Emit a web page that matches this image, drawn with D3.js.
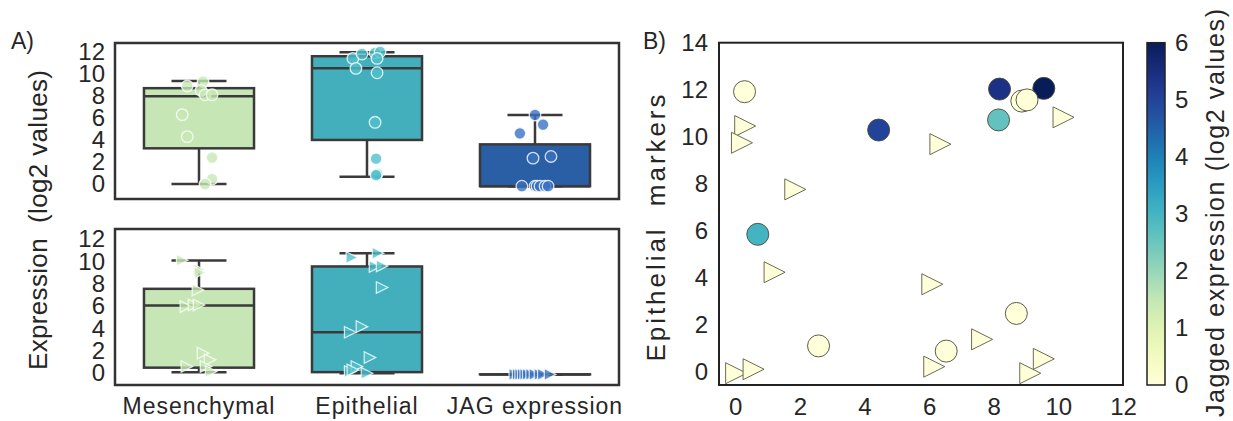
<!DOCTYPE html>
<html>
<head>
<meta charset="utf-8">
<script src="https://cdn.jsdelivr.net/npm/d3@7"></script>
<style>
  body { margin: 0; background: #fff; }
  text { font-family: "Liberation Sans", Arial, sans-serif; fill: #262626; }
</style>
</head>
<body>
<svg id="chart"></svg>
<script>
const svgWidth = 1233, svgHeight = 421;

// ---- data ----
const categories = ["Mesenchymal", "Epithelial", "JAG expression"];

// box stats: [lower whisker, q1, median, q3, upper whisker]
const topStats = [
  [0, 3.24, 7.97, 8.7, 9.36],
  [0.67, 4.0, 10.5, 11.6, 11.95],
  [-0.2, -0.2, -0.2, 3.6, 6.27]
];
const bottomStats = [
  [0.1, 0.5, 6.05, 7.55, 10.08],
  [0, 0.1, 3.67, 9.55, 10.74],
  [-0.1, -0.1, -0.1, -0.1, -0.1]
];

const topValues = [
  [8.9, 9.3, 8.5, 8.1, 8.1, 6.3, 4.3, 2.4, 0.45, 0],
  [11.4, 11.8, 11.9, 12.0, 11.4, 10.5, 10.1, 5.6, 2.3, 0.9, 0.8],
  [6.27, 5.4, 4.6, 2.35, 2.5, -0.2, -0.2, -0.2, -0.2, -0.2, -0.2]
];
const topJitter = [
  [-0.07, 0.024, 0.012, 0.036, 0.078, -0.1, -0.07, 0.078, 0.078, 0.036],
  [-0.084, -0.03, 0.048, 0.078, 0.06, -0.066, 0.06, 0.048, 0.054, 0.06, 0.054],
  [0, 0.048, -0.09, -0.012, 0.095, -0.078, 0, 0.012, 0.03, 0.06, 0.078]
];
const bottomValues = [
  [10.1, 9.25, 9.0, 7.45, 5.96, 6.1, 6.1, 1.8, 1.2, 0.6, 0.6, 0.15],
  [10.35, 10.74, 9.55, 9.6, 7.67, 3.67, 4.17, 1.4, 0.15, 0.6, 0.3, 0],
  [-0.1, -0.1, -0.1, -0.1, -0.1, -0.1, -0.1, -0.1, -0.1, -0.1, -0.1]
];
const bottomJitter = [
  [-0.1, 0, 0.006, -0.006, -0.078, -0.03, 0, 0.024, 0.066, -0.072, 0.042, 0.072],
  [-0.09, 0.066, 0.048, 0.09, 0.09, -0.1, -0.03, 0.018, -0.1, -0.06, -0.084, 0],
  [-0.12, -0.1, -0.085, -0.07, -0.055, -0.04, -0.02, 0, 0.03, 0.05, 0.09]
];

// panel B
const scatterX   = [4.44, 8.18, 9.55, 8.15, 0.70, 8.87, 9.03, 0.29, 2.58, 6.53, 8.70,
                    0.31, 0.21, 1.86, 6.35, 10.16, 1.22, 6.10, 0.03, 0.57, 6.16, 7.64, 9.55, 9.13];
const scatterY   = [10.29, 12.03, 12.06, 10.72, 5.86, 11.52, 11.57, 11.92, 1.12, 0.9, 2.5,
                    10.46, 9.75, 7.77, 9.69, 10.83, 4.25, 3.74, -0.04, 0.13, 0.24, 1.4, 0.57, -0.04];
const scatterJag = [5.0, 5.4, 6.0, 2.6, 3.0, 0, 0, 0, 0, 0, 0,
                    0, 0, 0, 0, 0, 0, 0, 0, 0, 0, 0, 0, 0];
const scatterShape = ["o","o","o","o","o","o","o","o","o","o","o",
                      ">",">",">",">",">",">",">",">",">",">",">",">",">"];
const xTicksB = [0, 2, 4, 6, 8, 10, 12];
const yTicksB = [0, 2, 4, 6, 8, 10, 12, 14];
const yTicksA = [0, 2, 4, 6, 8, 10, 12];
const cbarTicks = [0, 1, 2, 3, 4, 5, 6];

// ---- styles ----
const boxColors = ["#c7e6b6", "#44afbc", "#2a5ea5"];
const pointColors = ["#c7e9b4", "#4fc1cc", "#3a72c2"];
const dark = "#3a3a3a";
const tickFont = "24px";

const svg = d3.select("#chart")
    .attr("width", svgWidth)
    .attr("height", svgHeight);

// ---------- panel A ----------
const xA = d3.scaleLinear().domain([-0.5, 2.5]).range([115, 619]);
const boxW = 0.655;

function triPath(r) {
  return `M${-r},${-r}L${r},0L${-r},${r}Z`;
}

function drawBoxPanel(y, stats, values, jitter, marker) {
  const g = svg.append("g");

  g.append("g")
    .attr("transform", `translate(${xA.range()[0] - 10},0)`)
    .call(d3.axisLeft(y).tickValues(yTicksA).tickSize(0).tickPadding(0))
    .call(a => a.select(".domain").remove())
    .selectAll("text")
    .style("font-size", tickFont)
    .attr("fill", "#262626");

  stats.forEach((s, i) => {
    const cx = xA(i);
    const half = (xA(boxW) - xA(0)) / 2;
    // whiskers
    g.append("line")
      .attr("x1", cx).attr("x2", cx)
      .attr("y1", y(s[4])).attr("y2", y(s[3]))
      .attr("stroke", dark).attr("stroke-width", 2.5);
    g.append("line")
      .attr("x1", cx).attr("x2", cx)
      .attr("y1", y(s[1])).attr("y2", y(s[0]))
      .attr("stroke", dark).attr("stroke-width", 2.5);
    [s[0], s[4]].forEach(v => {
      g.append("line")
        .attr("x1", cx - half / 2).attr("x2", cx + half / 2)
        .attr("y1", y(v)).attr("y2", y(v))
        .attr("stroke", dark).attr("stroke-width", 2.5);
    });
    g.append("rect")
      .attr("x", cx - half).attr("width", 2 * half)
      .attr("y", y(s[3])).attr("height", Math.max(0.01, y(s[1]) - y(s[3])))
      .attr("fill", boxColors[i])
      .attr("stroke", dark).attr("stroke-width", 2.5);
    g.append("line")
      .attr("x1", cx - half).attr("x2", cx + half)
      .attr("y1", y(s[2])).attr("y2", y(s[2]))
      .attr("stroke", dark).attr("stroke-width", 2.5);
  });

  values.forEach((vals, i) => {
    vals.forEach((v, j) => {
      const px = xA(i + jitter[i][j]);
      const py = y(v);
      if (marker === "o") {
        g.append("circle")
          .attr("cx", px).attr("cy", py).attr("r", 5.8)
          .attr("fill", pointColors[i]).attr("fill-opacity", 0.8)
          .attr("stroke", "#fff").attr("stroke-opacity", 0.8).attr("stroke-width", 1.3);
      } else {
        g.append("path")
          .attr("d", triPath(5.8))
          .attr("transform", `translate(${px},${py})`)
          .attr("fill", pointColors[i]).attr("fill-opacity", 0.8)
          .attr("stroke", "#fff").attr("stroke-opacity", 0.8).attr("stroke-width", 1.2);
      }
    });
  });

  const [y0, y1] = y.range();
  g.append("rect")
    .attr("x", xA.range()[0]).attr("y", y1)
    .attr("width", xA.range()[1] - xA.range()[0]).attr("height", y0 - y1)
    .attr("fill", "none").attr("stroke", "#333").attr("stroke-width", 2.5);
}

const yTop = d3.scaleLinear().domain([-1.36, 12.8]).range([199, 43]);
const yBot = d3.scaleLinear().domain([-1.05, 12.9]).range([385, 229]);

drawBoxPanel(yTop, topStats, topValues, topJitter, "o");
drawBoxPanel(yBot, bottomStats, bottomValues, bottomJitter, ">");

svg.append("g")
  .selectAll("text")
  .data(categories)
  .enter()
  .append("text")
  .attr("x", (d, i) => xA(i))
  .attr("y", 414)
  .attr("text-anchor", "middle")
  .style("font-size", "23px")
  .style("letter-spacing", "1px")
  .text(d => d);

svg.append("text")
  .attr("transform", "translate(47,220) rotate(-90)")
  .attr("text-anchor", "middle")
  .attr("textLength", 300)
  .attr("lengthAdjust", "spacing")
  .style("font-size", "26px")
  .style("white-space", "pre")
  .text("Expression  (log2 values)");

svg.append("text")
  .attr("x", 11).attr("y", 49)
  .style("font-size", "23px")
  .text("A)");

// ---------- panel B ----------
const xB = d3.scaleLinear().domain([-0.5, 12]).range([719, 1123]);
const yB = d3.scaleLinear().domain([-0.54, 14]).range([385, 42.7]);
const colorB = d3.scaleSequential(d3.interpolateYlGnBu).domain([0, 6]);

svg.append("g")
  .attr("transform", `translate(0,${yB.range()[0] + 12})`)
  .call(d3.axisBottom(xB).tickValues(xTicksB).tickSize(0).tickPadding(0))
  .call(a => a.select(".domain").remove())
  .selectAll("text")
  .style("font-size", tickFont)
  .attr("dy", "0.75em")
  .attr("fill", "#262626");

svg.append("g")
  .attr("transform", `translate(${xB.range()[0] - 11},0)`)
  .call(d3.axisLeft(yB).tickValues(yTicksB).tickSize(0).tickPadding(0))
  .call(a => a.select(".domain").remove())
  .selectAll("text")
  .style("font-size", tickFont)
  .attr("fill", "#262626");

const pts = svg.append("g");
scatterX.forEach((xv, i) => {
  const px = xB(xv), py = yB(scatterY[i]);
  if (scatterShape[i] === "o") {
    pts.append("circle")
      .attr("cx", px).attr("cy", py).attr("r", 11)
      .attr("fill", colorB(scatterJag[i]))
      .attr("stroke", "#4a4a3a").attr("stroke-width", 0.9);
  } else {
    pts.append("path")
      .attr("d", triPath(10.5))
      .attr("transform", `translate(${px},${py})`)
      .attr("fill", colorB(scatterJag[i]))
      .attr("stroke", "#5a5a44").attr("stroke-width", 0.9);
  }
});

svg.append("rect")
  .attr("x", xB.range()[0]).attr("y", yB.range()[1])
  .attr("width", xB.range()[1] - xB.range()[0])
  .attr("height", yB.range()[0] - yB.range()[1])
  .attr("fill", "none").attr("stroke", "#222").attr("stroke-width", 2);

svg.append("text")
  .attr("transform", "translate(665,228) rotate(-90)")
  .attr("text-anchor", "middle")
  .attr("textLength", 267)
  .attr("lengthAdjust", "spacing")
  .style("font-size", "26px")
  .style("white-space", "pre")
  .text("Epithelial  markers");

svg.append("text")
  .attr("x", 643).attr("y", 49)
  .style("font-size", "23px")
  .text("B)");

// colorbar
const cbX = 1147, cbW = 18;
const cScale = d3.scaleLinear().domain([0, 6]).range([385, 42.7]);
const grad = svg.append("defs").append("linearGradient")
  .attr("id", "cbar")
  .attr("x1", "0").attr("y1", "1").attr("x2", "0").attr("y2", "0");
d3.range(0, 1.001, 0.05).forEach(t => {
  grad.append("stop")
    .attr("offset", t)
    .attr("stop-color", d3.interpolateYlGnBu(t));
});
svg.append("rect")
  .attr("x", cbX).attr("y", cScale(6))
  .attr("width", cbW).attr("height", cScale(0) - cScale(6))
  .attr("fill", "url(#cbar)")
  .attr("stroke", "#222").attr("stroke-width", 1.5);

svg.append("g")
  .attr("transform", `translate(${cbX + cbW + 10},0)`)
  .call(d3.axisRight(cScale).tickValues(cbarTicks).tickFormat(d3.format("d")).tickSize(0).tickPadding(0))
  .call(a => a.select(".domain").remove())
  .selectAll("text")
  .style("font-size", tickFont)
  .attr("fill", "#262626");

svg.append("text")
  .attr("transform", "translate(1224,213) rotate(-90)")
  .attr("text-anchor", "middle")
  .attr("textLength", 408)
  .attr("lengthAdjust", "spacing")
  .style("font-size", "25px")
  .text("Jagged expression (log2 values)");
</script>
</body>
</html>
